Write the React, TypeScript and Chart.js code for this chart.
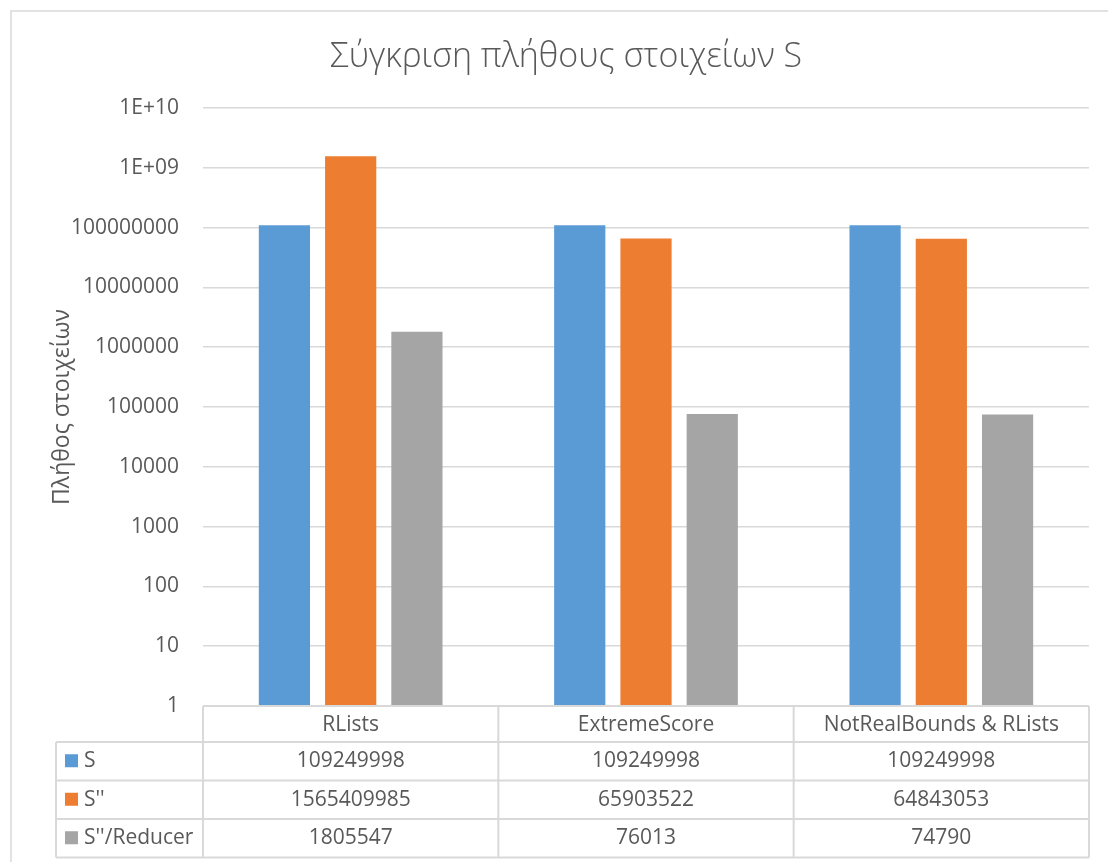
import React, { useEffect, useRef } from "react";
import { Chart, registerables } from "chart.js";

Chart.register(...registerables);

// Categories and series
const categories = ["RLists", "ExtremeScore", "NotRealBounds & RLists"];
const seriesNames = ["S", "S''", "S''/Reducer"];
const sValues = [109249998, 109249998, 109249998];
const sPrimeValues = [1565409985, 65903522, 64843053];
const reducerValues = [1805547, 76013, 74790];
const seriesColors = ["#5B9BD5", "#ED7D31", "#A5A5A5"];

// Logarithmic value axis ticks
const yTickValues = [1, 10, 100, 1000, 10000, 100000, 1000000, 10000000, 100000000, 1000000000, 10000000000];
const yTickLabels = ["1", "10", "100", "1000", "10000", "100000", "1000000", "10000000", "100000000", "1E+09", "1E+10"];

const chartTitle = "Σύγκριση πλήθους στοιχείων S";
const yAxisTitle = "Πλήθος στοιχείων";

const FONT = '"Open Sans", "Noto Sans", sans-serif';
const TEXT_COLOR = "#595959";
const LINE_COLOR = "#D9D9D9";

// Data table geometry below the plot
const HEADER_H = 36;
const ROW_H = 38.5;
const LEGEND_COL_LEFT = 56;

const decorPlugin = {
  id: "decor",
  beforeDraw(chart: any) {
    const ctx = chart.ctx;
    ctx.save();
    ctx.fillStyle = "#ffffff";
    ctx.fillRect(0, 0, chart.width, chart.height);
    ctx.strokeStyle = LINE_COLOR;
    ctx.lineWidth = 1.5;
    ctx.strokeRect(11, 11, chart.width + 20, chart.height + 20);
    ctx.restore();
  },
  afterDraw(chart: any) {
    const ctx = chart.ctx;
    const area = chart.chartArea;
    ctx.save();

    // Title
    ctx.fillStyle = TEXT_COLOR;
    ctx.font = `300 34px ${FONT}`;
    ctx.textAlign = "center";
    ctx.textBaseline = "middle";
    ctx.fillText(chartTitle, 566, 57);

    // Value axis title
    ctx.save();
    ctx.translate(62, 407);
    ctx.rotate(-Math.PI / 2);
    ctx.font = `23px ${FONT}`;
    ctx.fillText(yAxisTitle, 0, 0);
    ctx.restore();

    // Data table
    const n = chart.data.labels.length;
    const colW = area.width / n;
    const top = area.bottom;
    const rowsTop = top + HEADER_H;
    const datasets = chart.data.datasets;
    const bottom = rowsTop + ROW_H * datasets.length;

    ctx.strokeStyle = LINE_COLOR;
    ctx.lineWidth = 2;
    ctx.beginPath();
    ctx.moveTo(area.left, top);
    ctx.lineTo(area.right, top);
    for (let r = 0; r <= datasets.length; r++) {
      const y = rowsTop + r * ROW_H;
      ctx.moveTo(LEGEND_COL_LEFT, y);
      ctx.lineTo(area.right, y);
    }
    for (let c = 0; c <= n; c++) {
      const x = area.left + c * colW;
      ctx.moveTo(x, top);
      ctx.lineTo(x, bottom);
    }
    ctx.moveTo(LEGEND_COL_LEFT, rowsTop);
    ctx.lineTo(LEGEND_COL_LEFT, bottom);
    ctx.stroke();

    ctx.font = `21px ${FONT}`;
    ctx.fillStyle = TEXT_COLOR;
    ctx.textBaseline = "middle";
    ctx.textAlign = "center";
    chart.data.labels.forEach((lab: string, i: number) => {
      ctx.fillText(lab, area.left + (i + 0.5) * colW, top + HEADER_H / 2 + 1);
    });

    datasets.forEach((ds: any, r: number) => {
      const yMid = rowsTop + (r + 0.5) * ROW_H;
      ctx.fillStyle = ds.backgroundColor;
      ctx.fillRect(65, yMid - 7, 13, 13);
      ctx.fillStyle = TEXT_COLOR;
      ctx.textAlign = "left";
      ctx.fillText(ds.label, 84, yMid);
      ctx.textAlign = "center";
      ds.data.forEach((v: number, i: number) => {
        ctx.fillText(String(v), area.left + (i + 0.5) * colW, yMid);
      });
    });

    ctx.restore();
  },
};

export default function App() {
  const canvasRef = useRef<HTMLCanvasElement | null>(null);

  useEffect(() => {
    if (!canvasRef.current) return;
    const seriesData = [sValues, sPrimeValues, reducerValues];
    const chart = new Chart(canvasRef.current, {
      type: "bar",
      data: {
        labels: categories,
        datasets: seriesNames.map((name, i) => ({
          label: name,
          data: seriesData[i],
          backgroundColor: seriesColors[i],
          borderWidth: 0,
          barPercentage: 0.773,
          categoryPercentage: 0.673,
        })),
      },
      options: {
        animation: false,
        responsive: false,
        maintainAspectRatio: false,
        layout: { padding: { left: 0, right: 19, top: 108, bottom: 156 } },
        plugins: {
          legend: { display: false },
          title: { display: false },
          tooltip: { enabled: false },
        },
        scales: {
          x: { display: false },
          y: {
            type: "logarithmic",
            min: 1,
            max: 10000000000,
            afterBuildTicks: (scale: any) => {
              scale.ticks = yTickValues.map((v) => ({ value: v }));
            },
            afterFit: (scale: any) => {
              scale.width = 203;
            },
            border: { display: false },
            grid: { color: LINE_COLOR, lineWidth: 1.5, drawTicks: false },
            ticks: {
              padding: 24,
              color: TEXT_COLOR,
              font: { family: FONT, size: 21 },
              callback: (v: any) => yTickLabels[yTickValues.indexOf(Number(v))],
            },
          },
        },
      },
      plugins: [decorPlugin],
    });
    return () => chart.destroy();
  }, []);

  return (
    <div style={{ position: "absolute", left: 0, top: 0, width: 1108, height: 862 }}>
      <canvas ref={canvasRef} width={1108} height={862} style={{ display: "block" }} />
    </div>
  );
}
